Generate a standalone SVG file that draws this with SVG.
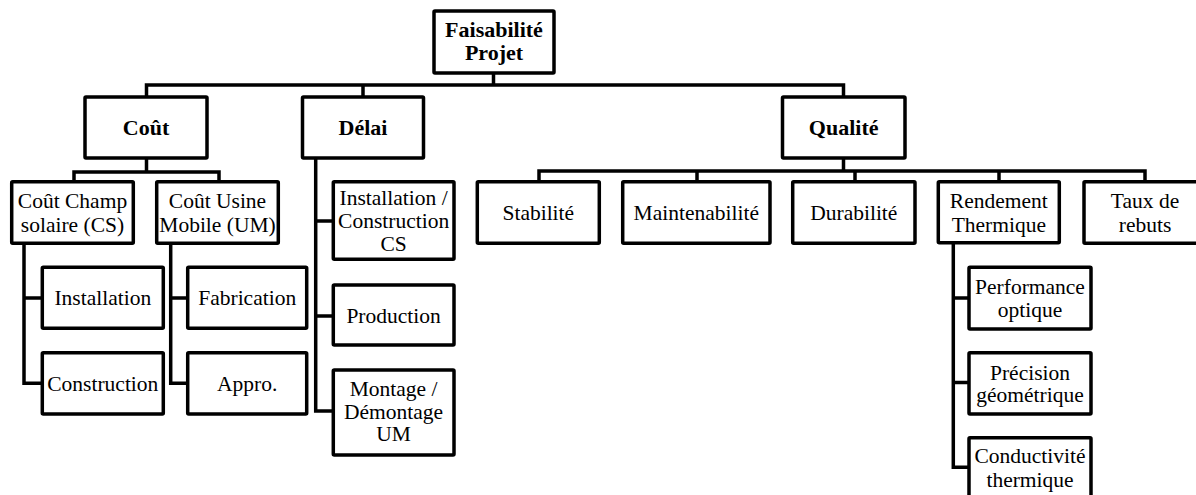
<svg xmlns="http://www.w3.org/2000/svg" width="1196" height="495" viewBox="0 0 1196 495">
<style>
.b{fill:#fff;stroke:#000;stroke-width:3.5}
.c{fill:none;stroke:#000;stroke-width:3.5;stroke-linejoin:miter}
.t text{font-size:21.5px;fill:#000;text-anchor:middle}
.t .bd{font-weight:bold;font-size:22px}
</style>
<rect width="1196" height="495" fill="#fff"/>
<g id="connectors" class="c">
<path d="M146.5 97V85H843.5V97M493.5 73V85M363 85V97"/>
<path d="M146.5 158V172M74 181.7V172H219V181.7"/>
<path d="M539 181.7V171H1145V181.7M843.5 158V171M697 171V181.7M855 171V181.7M999 171V181.7"/>
<path d="M24 243.3V383.3H42.3M24 298H42.3"/>
<path d="M170.7 243.3V383.3H187.7M170.7 298H187.7"/>
<path d="M315.7 158V411H333.3M315.7 221H333.3M315.7 316H333.3"/>
<path d="M953.3 242.7V467.3H969M953.3 298H969M953.3 382.5H969"/>
</g>
<g class="t" font-family="'Liberation Serif', Tinos, 'Times New Roman', 'DejaVu Serif', serif">
<g id="n-faisabilite"><rect class="b" x="434" y="11" width="120" height="62" rx="1"/><text class="bd" x="494" y="36.7">Faisabilité</text><text class="bd" x="494" y="60">Projet</text></g>
<g id="n-cout"><rect class="b" x="85" y="97" width="122" height="61" rx="1"/><text class="bd" x="146" y="135">Coût</text></g>
<g id="n-delai"><rect class="b" x="302.5" y="97" width="121" height="61" rx="1"/><text class="bd" x="363" y="135">Délai</text></g>
<g id="n-qualite"><rect class="b" x="782.5" y="97" width="122.5" height="61" rx="1"/><text class="bd" x="843.7" y="135">Qualité</text></g>
<g id="n-cs"><rect class="b" x="11.7" y="181.7" width="121.6" height="61.6" rx="1"/><text x="72.5" y="208.3">Coût Champ</text><text x="72.5" y="232">solaire (CS)</text></g>
<g id="n-um"><rect class="b" x="156.7" y="181.7" width="121.6" height="61.6" rx="1"/><text x="217.5" y="208.3">Coût Usine</text><text x="217.5" y="232">Mobile (UM)</text></g>
<g id="n-installation"><rect class="b" x="42.3" y="267.3" width="121" height="61" rx="1"/><text x="102.8" y="305">Installation</text></g>
<g id="n-construction"><rect class="b" x="42.3" y="352.7" width="121" height="61.3" rx="1"/><text x="102.8" y="390.5">Construction</text></g>
<g id="n-fabrication"><rect class="b" x="187.7" y="267.3" width="119" height="61" rx="1"/><text x="247.2" y="305">Fabrication</text></g>
<g id="n-appro"><rect class="b" x="187.7" y="352.7" width="119" height="61.3" rx="1"/><text x="247.2" y="390.5">Appro.</text></g>
<g id="n-inst-cs"><rect class="b" x="333.3" y="181.7" width="120.7" height="77.6" rx="1"/><text x="393.6" y="205">Installation /</text><text x="393.6" y="228">Construction</text><text x="393.6" y="250.5">CS</text></g>
<g id="n-production"><rect class="b" x="333.3" y="285" width="120.7" height="60" rx="1"/><text x="393.6" y="322.5">Production</text></g>
<g id="n-montage"><rect class="b" x="333.3" y="370" width="120.7" height="85" rx="1"/><text x="393.6" y="396">Montage /</text><text x="393.6" y="419">Démontage</text><text x="393.6" y="441">UM</text></g>
<g id="n-stabilite"><rect class="b" x="477.3" y="181.7" width="122" height="61.6" rx="1"/><text x="538.3" y="219.5">Stabilité</text></g>
<g id="n-maintenabilite"><rect class="b" x="622.7" y="181.7" width="147.3" height="61.6" rx="1"/><text x="696.3" y="219.5">Maintenabilité</text></g>
<g id="n-durabilite"><rect class="b" x="792.7" y="181.7" width="122.3" height="61.6" rx="1"/><text x="853.8" y="219.5">Durabilité</text></g>
<g id="n-rendement"><rect class="b" x="938.3" y="181.7" width="121" height="61" rx="1"/><text x="998.8" y="208">Rendement</text><text x="998.8" y="231.5">Thermique</text></g>
<g id="n-taux"><rect class="b" x="1084" y="181.7" width="122" height="61.6" rx="1"/><text x="1145" y="208">Taux de</text><text x="1145" y="231.5">rebuts</text></g>
<g id="n-performance"><rect class="b" x="969" y="267.3" width="122" height="61.7" rx="1"/><text x="1030" y="294.3">Performance</text><text x="1030" y="317">optique</text></g>
<g id="n-precision"><rect class="b" x="969" y="352.7" width="122" height="61.3" rx="1"/><text x="1030" y="379.5">Précision</text><text x="1030" y="402">géométrique</text></g>
<g id="n-conductivite"><rect class="b" x="969" y="437.7" width="122" height="61.3" rx="1"/><text x="1030" y="463.3">Conductivité</text><text x="1030" y="486.7">thermique</text></g>
</g>
</svg>
